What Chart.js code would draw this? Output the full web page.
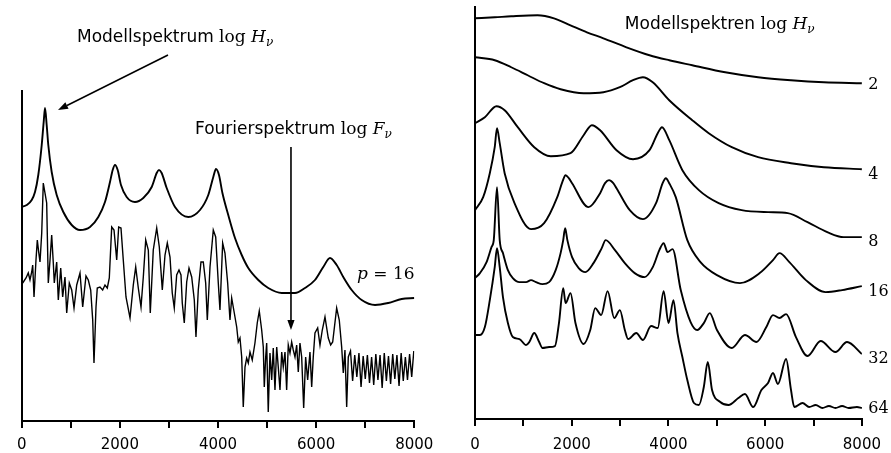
<!DOCTYPE html>
<html><head><meta charset="utf-8">
<script src="https://cdn.jsdelivr.net/npm/chart.js@4.4.1/dist/chart.umd.min.js"></script>
<style>
html,body{margin:0;padding:0;background:#fff;}
#wrap{position:relative;width:891px;height:453px;overflow:hidden;background:#fff;}
canvas{position:absolute;top:0;}
#cL{left:0;width:445px;height:453px;}
#cR{left:445px;width:446px;height:453px;}
</style></head><body>
<div id="wrap"><canvas id="cL" width="445" height="453"></canvas><canvas id="cR" width="446" height="453"></canvas></div>
<script>
// ---------- DATA (x in frequency units 0..8000, y in relative log units) ----------
const xTicks = [0, 1000, 2000, 3000, 4000, 5000, 6000, 7000, 8000];
const xTickLabels = ['0', '', '2000', '', '4000', '', '6000', '', '8000'];

// Left panel: model spectrum p = 16
const leftModel = [[0,214],[102,216],[204,221],[271,229],[338,246],[408,276],[448,299],[475,313],[509,296],[542,276],[611,249],[713,226],[848,209],[1019,196],[1188,191],[1392,194],[1561,204],[1697,219],[1799,239],[1854,251],[1901,256],[1956,251],[2023,236],[2139,224],[2308,219],[2478,223],[2649,234],[2751,248],[2797,251],[2852,248],[2954,233],[3124,214],[3394,204],[3633,211],[3802,226],[3904,244],[3959,252],[4020,246],[4090,228],[4209,206],[4346,183],[4483,166],[4617,153],[4821,141],[5024,133],[5298,128],[5569,128],[5772,133],[5976,141],[6145,154],[6282,163],[6418,156],[6553,144],[6724,131],[6928,121],[7200,116],[7470,118],[7742,122],[8000,123]];

// Left panel: Fourier spectrum
const leftFourier = [[20,138],[88,143],[134,148],[169,141],[204,149],[224,156],[251,124],[291,161],[318,181],[346,169],[373,159],[408,188],[440,238],[509,218],[542,138],[577,161],[611,186],[644,158],[664,138],[713,159],[746,121],[795,153],[835,124],[882,144],[917,108],[970,138],[1019,131],[1066,113],[1121,136],[1188,148],[1243,114],[1310,145],[1357,141],[1406,131],[1447,101],[1473,58],[1514,114],[1540,133],[1595,134],[1650,131],[1697,136],[1744,133],[1785,143],[1834,194],[1881,191],[1936,161],[1976,194],[2023,193],[2070,161],[2125,124],[2207,103],[2274,136],[2323,154],[2376,133],[2431,114],[2478,144],[2527,181],[2580,171],[2620,108],[2681,171],[2751,193],[2804,174],[2865,131],[2920,166],[2967,178],[3022,164],[3068,128],[3109,113],[3158,146],[3205,151],[3246,146],[3272,118],[3313,98],[3362,139],[3409,153],[3464,144],[3517,121],[3551,84],[3598,131],[3653,159],[3700,159],[3749,138],[3782,101],[3837,154],[3904,191],[3953,184],[4006,138],[4040,111],[4095,178],[4142,168],[4197,138],[4244,101],[4279,123],[4332,108],[4381,94],[4413,79],[4448,83],[4483,64],[4515,14],[4550,54],[4584,63],[4617,58],[4652,69],[4698,61],[4753,78],[4800,98],[4841,110],[4890,91],[4923,74],[4943,34],[4972,64],[4992,78],[5024,9],[5059,68],[5094,41],[5126,73],[5161,31],[5196,74],[5228,54],[5263,31],[5298,69],[5330,54],[5365,69],[5399,31],[5432,76],[5467,68],[5501,79],[5534,71],[5569,64],[5603,76],[5636,49],[5670,78],[5705,64],[5746,13],[5786,64],[5827,41],[5874,69],[5909,34],[5941,64],[5976,88],[6031,93],[6078,76],[6125,91],[6180,104],[6247,83],[6296,76],[6337,79],[6418,113],[6471,101],[6520,74],[6553,48],[6587,71],[6622,14],[6655,64],[6700,70],[6743,40],[6786,66],[6829,44],[6872,68],[6915,34],[6958,65],[7001,42],[7044,66],[7087,38],[7130,64],[7173,36],[7216,67],[7259,41],[7302,66],[7345,33],[7388,68],[7431,40],[7474,65],[7517,37],[7560,67],[7603,42],[7646,66],[7689,35],[7732,68],[7775,40],[7818,64],[7861,41],[7904,67],[7947,44],[7990,70]];

// Right panel: model spectra for p = 2, 4, 8, 16, 32, 64
const orderLabels = ['2', '4', '8', '16', '32', '64'];
const modelP2 = [[0,401],[408,402],[749,403],[1293,404],[1634,401],[1974,394],[2314,387],[2655,381],[3131,372],[3608,364],[4016,359],[4492,354],[5173,347],[5853,342],[6534,339],[7214,337],[8000,336]];
const modelP4 = [[0,362],[408,359],[749,352],[1089,344],[1429,336],[1770,330],[2246,326],[2655,327],[2995,332],[3267,339],[3471,342],[3675,337],[4016,319],[4492,299],[4833,286],[5309,272],[5853,262],[6534,256],[7214,252],[8000,250]];
const modelP8 = [[0,296],[204,302],[443,313],[613,309],[884,292],[1225,272],[1566,263],[1975,266],[2246,284],[2416,294],[2587,289],[2926,269],[3267,260],[3608,269],[3778,286],[3866,292],[4017,279],[4288,249],[4629,229],[5038,216],[5513,209],[6059,207],[6467,206],[6876,197],[7284,187],[7623,182],[8000,182]];
const modelP16 = [[0,209],[169,222],[306,246],[408,272],[455,291],[511,276],[613,246],[817,216],[1158,190],[1429,196],[1701,222],[1805,237],[1873,244],[1940,241],[2007,236],[2348,212],[2587,226],[2689,236],[2771,239],[2859,236],[2926,231],[3200,209],[3471,200],[3743,216],[3880,236],[3947,241],[4016,236],[4151,222],[4390,179],[4662,157],[5003,144],[5479,136],[5887,146],[6161,159],[6296,166],[6500,157],[6841,139],[7249,127],[7590,129],[8000,133]];
const modelP32 = [[0,141],[102,146],[239,157],[341,172],[388,179],[455,232],[511,179],[578,166],[680,149],[782,141],[919,137],[1056,137],[1158,139],[1260,137],[1395,135],[1532,137],[1668,149],[1770,166],[1824,179],[1864,191],[1910,179],[2007,162],[2144,151],[2281,147],[2450,156],[2620,171],[2702,179],[2894,169],[3098,156],[3302,146],[3506,142],[3676,152],[3812,169],[3900,176],[3982,167],[4084,170],[4254,129],[4458,97],[4594,89],[4731,96],[4854,106],[5003,89],[5309,71],[5581,84],[5820,77],[6024,92],[6161,104],[6296,101],[6432,105],[6636,82],[6876,63],[7147,78],[7453,67],[7692,77],[8000,65]];
const modelP64 = [[0,84],[102,84],[204,92],[306,119],[408,152],[455,171],[511,152],[578,122],[680,96],[782,82],[919,80],[1056,74],[1123,77],[1225,86],[1327,77],[1395,71],[1532,72],[1654,73],[1736,96],[1824,131],[1873,116],[1975,126],[2077,96],[2246,75],[2383,89],[2485,111],[2608,104],[2742,128],[2879,101],[2996,109],[3098,89],[3165,80],[3335,86],[3471,79],[3641,93],[3778,91],[3900,128],[4002,96],[4104,119],[4186,86],[4288,62],[4390,39],[4527,16],[4629,14],[4731,32],[4813,57],[4901,29],[5071,17],[5242,14],[5446,21],[5581,25],[5752,12],[5922,29],[6059,36],[6161,46],[6263,35],[6432,60],[6534,29],[6602,12],[6773,16],[6909,12],[7045,14],[7182,11],[7318,13],[7453,11],[7590,13],[7726,11],[7897,12],[8000,11]];

// ---------- helpers ----------
const SANS = '"DejaVu Sans"';
const SERIF = '"DejaVu Serif"';
function pts(a){ return a.map(p => ({x:p[0], y:p[1]})); }
function lineDs(a, w, smooth){
  return {data: pts(a), borderColor:'#000', borderWidth:w, pointRadius:0,
    fill:false, tension: smooth ? 0.4 : 0, cubicInterpolationMode: smooth ? 'monotone' : 'default'};
}
function mathLabel(main, sym, size){
  return [
    {t: main + ' ', f: size + 'px ' + SANS},
    {t: 'log ', f: size + 'px ' + SERIF},
    {t: sym, f: 'italic ' + size + 'px ' + SERIF},
    {t: 'ν', f: 'italic ' + Math.round(size*0.7) + 'px ' + SERIF, dy: 4}
  ];
}
const annot = {
  id: 'annot',
  afterDraw(chart, args, opts){
    const ctx = chart.ctx, xs = chart.scales.x, ys = chart.scales.y;
    const P = (x, v) => [xs.getPixelForValue(x), ys.getPixelForValue(v)];
    ctx.save();
    ctx.fillStyle = '#000'; ctx.strokeStyle = '#000';
    (opts.texts || []).forEach(t => {
      let [px, py] = P(t.x, t.v);
      ctx.textBaseline = t.baseline || 'alphabetic';
      ctx.textAlign = 'left';
      t.parts.forEach(p => {
        ctx.font = p.f;
        ctx.fillText(p.t, px, py + (p.dy || 0));
        px += ctx.measureText(p.t).width;
      });
    });
    (opts.arrows || []).forEach(a => {
      const [x1, y1] = P(a.x1, a.v1), [x2, y2] = P(a.x2, a.v2);
      const ang = Math.atan2(y2 - y1, x2 - x1), L = 10, W = 3.6;
      const bx = x2 - L*Math.cos(ang), by = y2 - L*Math.sin(ang);
      ctx.lineWidth = 1.6;
      ctx.beginPath(); ctx.moveTo(x1, y1); ctx.lineTo(bx, by); ctx.stroke();
      ctx.beginPath();
      ctx.moveTo(x2, y2);
      ctx.lineTo(bx + W*Math.sin(ang), by - W*Math.cos(ang));
      ctx.lineTo(bx - W*Math.sin(ang), by + W*Math.cos(ang));
      ctx.closePath(); ctx.fill();
    });
    ctx.restore();
  }
};
function makeOptions(yMax, pad, xH, tickPad, annotOpts){
  return {
    responsive: false, animation: false, devicePixelRatio: 1,
    layout: {padding: pad},
    plugins: {legend: {display:false}, tooltip: {enabled:false}, annot: annotOpts},
    scales: {
      x: {type:'linear', min:0, max:8000,
        afterBuildTicks: s => { s.ticks = xTicks.map(v => ({value:v})); },
        afterFit: s => { s.height = xH; },
        ticks: {autoSkip:false, maxRotation:0, padding:tickPad, color:'#000',
          font:{family:'DejaVu Sans', size:15},
          callback: (v, i) => xTickLabels[i]},
        grid: {display:true, drawOnChartArea:false, drawTicks:true, tickLength:7, color:'#000', lineWidth:2},
        border: {display:true, color:'#000', width:2}
      },
      y: {type:'linear', min:0, max:yMax,
        afterFit: s => { s.width = 0; },
        ticks: {display:false},
        grid: {display:false, drawTicks:false},
        border: {display:true, color:'#000', width:2}
      }
    }
  };
}

// ---------- left chart ----------
new Chart(document.getElementById('cL'), {
  type: 'line',
  data: {datasets: [lineDs(leftModel, 1.9, true), lineDs(leftFourier, 1.4, false)]},
  options: makeOptions(330, {left:21.7, right:30.7, top:91, bottom:0}, 32, 8, {
    texts: [
      {x:1127, v:379.3, parts: mathLabel('Modellspektrum', 'H', 17)},
      {x:3531, v:287, parts: mathLabel('Fourierspektrum', 'F', 17)},
      {x:6832, v:142, parts: [
        {t:'p', f:'italic 17px ' + SERIF}, {t:' = 16', f:'17px ' + SERIF}]}
    ],
    arrows: [
      {x1:2981, v1:366, x2:740, v2:311},
      {x1:5487, v1:274, x2:5487, v2:91}
    ]
  }),
  plugins: [annot]
});

// ---------- right chart ----------
const rightSeries = [modelP2, modelP4, modelP8, modelP16, modelP32, modelP64];
const labelV = [334, 244, 177, 127, 60, 10];
new Chart(document.getElementById('cR'), {
  type: 'line',
  data: {datasets: rightSeries.map(s => lineDs(s, 1.9, true))},
  options: makeOptions(412, {left:30, right:24.3, top:7.3, bottom:0}, 34, 10, {
    texts: [{x:3098, v:390.7, parts: mathLabel('Modellspektren', 'H', 17)}].concat(
      orderLabels.map((t, i) => ({x:8133, v:labelV[i], baseline:'middle',
        parts:[{t:t, f:'16px ' + SERIF}]}))
    )
  }),
  plugins: [annot]
});
</script>
</body></html>
